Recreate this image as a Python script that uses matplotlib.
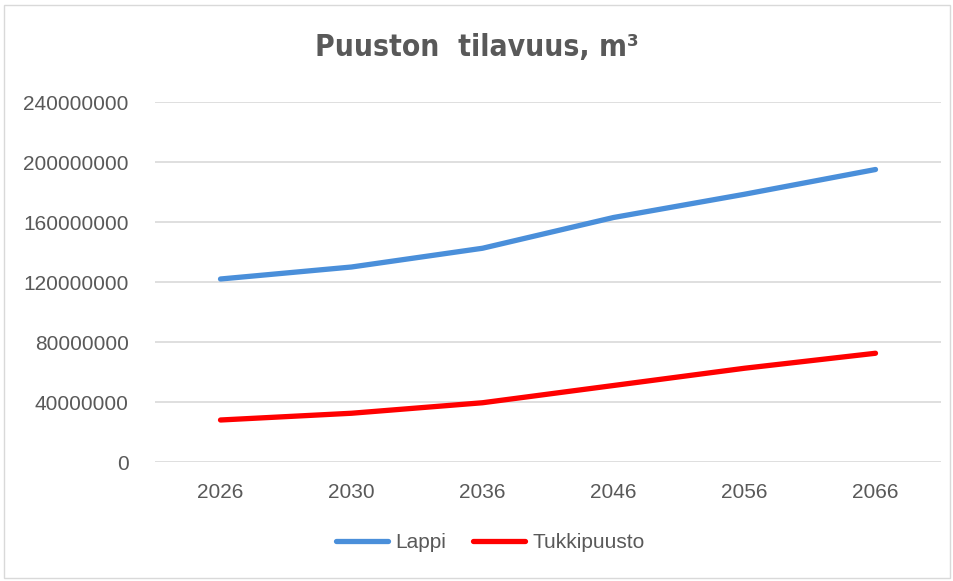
import matplotlib.pyplot as plt
from matplotlib.patches import Rectangle
import numpy as np

years = ['2026', '2030', '2036', '2046', '2056', '2066']
lappi = [122000000, 130000000, 142500000, 163000000, 178500000, 195000000]
tukkipuusto = [28000000, 32500000, 39500000, 51000000, 62500000, 72500000]

plt.rcParams['font.family'] = ['Liberation Sans', 'DejaVu Sans']
grey = '#595959'

fig = plt.figure(figsize=(9.54, 5.81), dpi=100)
ax = fig.add_axes([155 / 954, 1 - 462 / 581, 786 / 954, 360 / 581])

x = np.arange(len(years))
ax.plot(x, lappi, color='#4A8FDA', lw=3.8, solid_capstyle='round', label='Lappi')
ax.plot(x, tukkipuusto, color='#FF0000', lw=3.8, solid_capstyle='round', label='Tukkipuusto')

ax.set_xlim(-0.5, len(years) - 0.5)
ax.set_ylim(0, 240000000)
ax.set_yticks(np.arange(0, 240000001, 40000000))
ax.set_yticklabels([str(v) for v in range(0, 240000001, 40000000)])
ax.set_xticks(x)
ax.set_xticklabels(years)
ax.tick_params(axis='both', length=0, labelsize=15, colors=grey)
ax.tick_params(axis='y', pad=19)
ax.tick_params(axis='x', pad=15)
ax.grid(axis='y', color='#D9D9D9', lw=1.2)
ax.set_axisbelow(True)
for s in ax.spines.values():
    s.set_visible(False)

fig.text(0.5, 1 - 47 / 581, 'Puuston  tilavuus, m³', ha='center', va='center',
         fontsize=21.5, fontweight='bold', fontstretch='condensed', color=grey,
         family='DejaVu Sans')

fig.legend(loc='center', bbox_to_anchor=(490 / 954, 1 - 543 / 581), ncol=2, frameon=False,
           labelcolor=grey, handlelength=2.5, handletextpad=0.35,
           columnspacing=1.3, prop={'size': 15})

fig.patches.append(Rectangle((4 / 954, 1 - 578 / 581), 946 / 954, 573 / 581,
                             transform=fig.transFigure, fill=False,
                             edgecolor='#D9D9D9', lw=1))

fig.savefig('out.png', dpi=100)
